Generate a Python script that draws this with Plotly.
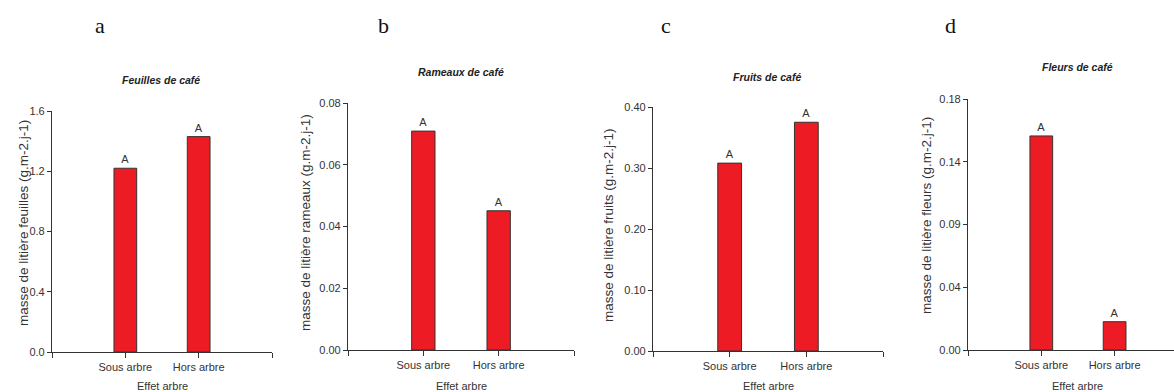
import plotly.graph_objects as go

W, H = 1174, 392

categories = ["Sous arbre", "Hors arbre"]
feuilles = [1.22, 1.43]
rameaux = [0.0709, 0.0451]
fruits = [0.308, 0.375]
fleurs = [0.1535, 0.0203]
signif = ["A", "A"]

panel_letters = ["a", "b", "c", "d"]
panel_titles = ["Feuilles de café", "Rameaux de café", "Fruits de café", "Fleurs de café"]
y_titles = [
    "masse de litière feuilles (g.m-2.j-1)",
    "masse de litière rameaux (g.m-2.j-1)",
    "masse de litière fruits (g.m-2.j-1)",
    "masse de litière fleurs (g.m-2.j-1)",
]
y_tickvals = [
    [0, 0.4, 0.8, 1.2, 1.6],
    [0, 0.02, 0.04, 0.06, 0.08],
    [0, 0.1, 0.2, 0.3, 0.4],
    [0, 0.045, 0.09, 0.135, 0.18],
]
y_ticktext = [
    ["0.0", "0.4", "0.8", "1.2", "1.6"],
    ["0.00", "0.02", "0.04", "0.06", "0.08"],
    ["0.00", "0.10", "0.20", "0.30", "0.40"],
    ["0.00", "0.04", "0.09", "0.14", "0.18"],
]
x_title = "Effet arbre"
series = [feuilles, rameaux, fruits, fleurs]

geo = [
    dict(x0=52, x1=272, yb=352, yt=111, xmax=2.0, letter_x=100, title_x=161, title_y=80, ytitle_x=23, ytitle_y=223),
    dict(x0=348, x1=574, yb=350, yt=103, xmax=2.0, letter_x=383, title_x=461, title_y=72, ytitle_x=305, ytitle_y=223),
    dict(x0=653, x1=883, yb=351, yt=107, xmax=2.0, letter_x=666, title_x=767, title_y=77, ytitle_x=608, ytitle_y=225),
    dict(x0=968, x1=1174, yb=350, yt=99, xmax=1.81, letter_x=950, title_x=1077, title_y=67, ytitle_x=927, ytitle_y=216),
]

sans = "Liberation Sans, Arial, sans-serif"
serif = "Liberation Serif, Times New Roman, serif"

fig = go.Figure()
annotations = []
for i, (vals, g) in enumerate(zip(series, geo)):
    n = "" if i == 0 else str(i + 1)
    fig.add_trace(go.Bar(
        x=[0, 1], y=vals, width=0.31,
        marker=dict(color="#ED1C24", line=dict(color="#333333", width=1)),
        text=signif, textposition="outside",
        textfont=dict(family=sans, size=11, color="#333333"),
        cliponaxis=False, showlegend=False,
        xaxis="x" + n, yaxis="y" + n,
    ))
    xdom = [g["x0"] / W, g["x1"] / W]
    ydom = [(H - g["yb"]) / H, (H - g["yt"]) / H]
    tv = [-1, 0, 1] + ([2] if g["xmax"] >= 2 else [])
    tt = [""] + categories + ([""] if g["xmax"] >= 2 else [])
    fig.update_layout(**{
        "xaxis" + n: dict(
            domain=xdom, range=[-1, g["xmax"]], anchor="y" + n,
            tickvals=tv, ticktext=tt, ticks="outside", ticklen=5, tickwidth=1,
            tickcolor="#333333", showline=True, linecolor="#333333", linewidth=1.2,
            showgrid=False, zeroline=False, automargin=False,
            tickfont=dict(family=sans, size=11, color="#333333"),
        ),
        "yaxis" + n: dict(
            domain=ydom, range=[0, y_tickvals[i][-1]], anchor="x" + n,
            tickvals=y_tickvals[i], ticktext=y_ticktext[i], ticks="outside",
            ticklen=4, tickwidth=1, tickcolor="#333333", showline=True,
            linecolor="#333333", linewidth=1.2, showgrid=False, zeroline=False,
            automargin=False,
            tickfont=dict(family=sans, size=11, color="#333333"),
        ),
    })
    common = dict(xref="paper", yref="paper", showarrow=False,
                  xanchor="center", yanchor="middle")
    annotations.append(dict(
        text=panel_letters[i], x=g["letter_x"] / W, y=(H - 25) / H,
        font=dict(family=serif, size=22, color="#111111"), **common,
    ))
    annotations.append(dict(
        text="<b><i>" + panel_titles[i] + "</i></b>", x=g["title_x"] / W,
        y=(H - g["title_y"]) / H,
        font=dict(family=sans, size=10.5, color="#222222"), **common,
    ))
    annotations.append(dict(
        text=y_titles[i], x=g["ytitle_x"] / W, y=(H - g["ytitle_y"]) / H,
        textangle=-90,
        font=dict(family=sans, size=13.5, color="#333333"), **common,
    ))
    cat_center = g["x0"] + (g["x1"] - g["x0"]) * (0.5 - (-1)) / (g["xmax"] + 1)
    annotations.append(dict(
        text=x_title, x=cat_center / W, y=(H - 386) / H,
        font=dict(family=sans, size=11, color="#333333"), **common,
    ))

fig.update_layout(
    width=W, height=H, margin=dict(l=0, r=0, t=0, b=0, pad=0, autoexpand=False),
    paper_bgcolor="white", plot_bgcolor="white",
    annotations=annotations, showlegend=False,
)
fig.write_html(
    "out.html",
    config={"displayModeBar": False},
    post_script="document.body.style.margin='0px';document.body.style.overflow='hidden';",
)
